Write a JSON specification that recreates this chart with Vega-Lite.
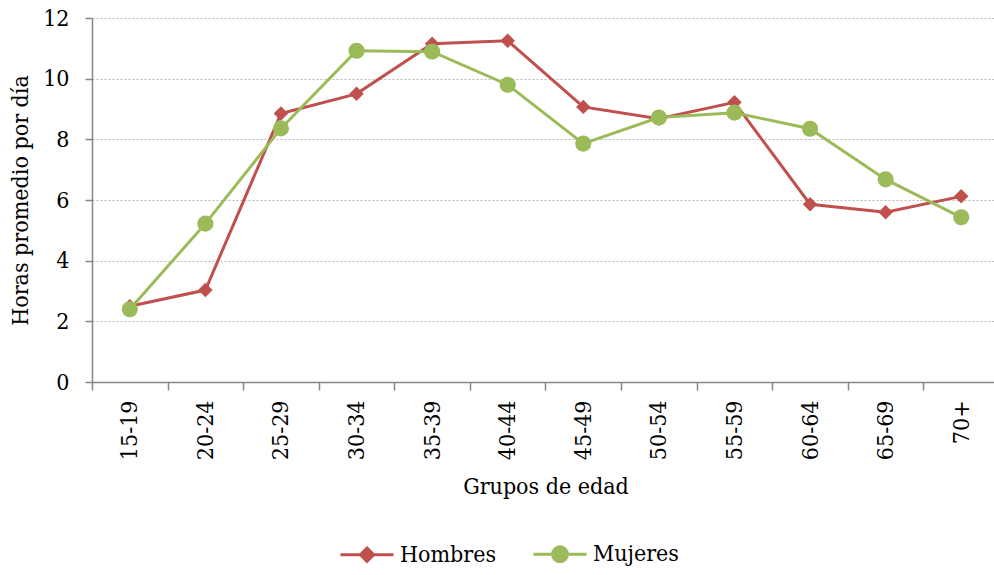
{
  "$schema": "https://vega.github.io/schema/vega-lite/v6.json",
  "autosize": "none",
  "width": 907,
  "height": 364,
  "padding": {"left": 92, "top": 18, "right": 0, "bottom": 193},
  "background": "white",
  "config": {
    "font": "DejaVu Serif Condensed, DejaVu Serif",
    "view": {"stroke": null}
  },
  "data": {
    "values": [
      {"grupo": "15-19", "sexo": "Hombres", "horas": 2.5},
      {"grupo": "20-24", "sexo": "Hombres", "horas": 3.03},
      {"grupo": "25-29", "sexo": "Hombres", "horas": 8.85},
      {"grupo": "30-34", "sexo": "Hombres", "horas": 9.5},
      {"grupo": "35-39", "sexo": "Hombres", "horas": 11.15},
      {"grupo": "40-44", "sexo": "Hombres", "horas": 11.25},
      {"grupo": "45-49", "sexo": "Hombres", "horas": 9.07},
      {"grupo": "50-54", "sexo": "Hombres", "horas": 8.68},
      {"grupo": "55-59", "sexo": "Hombres", "horas": 9.22},
      {"grupo": "60-64", "sexo": "Hombres", "horas": 5.86},
      {"grupo": "65-69", "sexo": "Hombres", "horas": 5.6},
      {"grupo": "70+", "sexo": "Hombres", "horas": 6.12},
      {"grupo": "15-19", "sexo": "Mujeres", "horas": 2.4},
      {"grupo": "20-24", "sexo": "Mujeres", "horas": 5.22},
      {"grupo": "25-29", "sexo": "Mujeres", "horas": 8.36},
      {"grupo": "30-34", "sexo": "Mujeres", "horas": 10.92},
      {"grupo": "35-39", "sexo": "Mujeres", "horas": 10.89},
      {"grupo": "40-44", "sexo": "Mujeres", "horas": 9.8},
      {"grupo": "45-49", "sexo": "Mujeres", "horas": 7.86},
      {"grupo": "50-54", "sexo": "Mujeres", "horas": 8.72},
      {"grupo": "55-59", "sexo": "Mujeres", "horas": 8.88},
      {"grupo": "60-64", "sexo": "Mujeres", "horas": 8.35},
      {"grupo": "65-69", "sexo": "Mujeres", "horas": 6.68},
      {"grupo": "70+", "sexo": "Mujeres", "horas": 5.43}
    ]
  },
  "encoding": {
    "x": {
      "field": "grupo", "type": "ordinal",
      "sort": ["15-19","20-24","25-29","30-34","35-39","40-44","45-49","50-54","55-59","60-64","65-69","70+"],
      "scale": {"type": "band", "paddingInner": 0, "paddingOuter": 0},
      "axis": {
        "title": "Grupos de edad", "titleFont": "DejaVu Serif Condensed, DejaVu Serif", "titleFontSize": 23, "titleFontWeight": "normal", "titlePadding": 16, "titleColor": "#000",
        "labelFont": "DejaVu Serif Condensed, DejaVu Serif", "labelColor": "#000",
        "labelAngle": -90, "labelFontSize": 23, "labelPadding": 10, "labelBaseline": "middle",
        "tickBand": "extent", "tickSize": 8, "tickWidth": 1.5, "tickColor": "#868686", "domainColor": "#868686", "domainWidth": 1.5, "grid": false
      }
    },
    "y": {
      "field": "horas", "type": "quantitative",
      "scale": {"domain": [0, 12], "nice": false},
      "axis": {
        "title": "Horas promedio por día", "titleFont": "DejaVu Serif Condensed, DejaVu Serif", "titleFontSize": 23, "titleFontWeight": "normal", "titlePadding": 10, "titleColor": "#000",
        "labelFont": "DejaVu Serif Condensed, DejaVu Serif", "labelColor": "#000",
        "values": [0, 2, 4, 6, 8, 10, 12], "labelFontSize": 23, "labelPadding": 16,
        "tickSize": 7, "tickWidth": 1.5, "tickColor": "#868686", "domainColor": "#868686", "domainWidth": 1.5,
        "grid": true, "gridColor": "#b8b8b8", "gridDash": [2, 2], "gridWidth": 1
      }
    },
    "color": {
      "field": "sexo", "type": "nominal",
      "scale": {"domain": ["Hombres", "Mujeres"], "range": ["#C0504D", "#9BBB59"]},
      "legend": {
        "title": null, "orient": "none", "legendX": 247, "legendY": 508, "direction": "horizontal",
        "labelFont": "DejaVu Serif Condensed, DejaVu Serif",
        "labelFontSize": 23, "labelColor": "#000", "symbolSize": 2809, "symbolStrokeWidth": 3,
        "columnPadding": 30, "labelOffset": 5,
        "symbolType": "M-1,0H1M0,-0.23L0.23,0L0,0.23L-0.23,0Z",
        "encode": {
          "symbols": {
            "update": {
              "shape": {"signal": "datum.value === 'Hombres' ? 'M-1,0H1M0,-0.25L0.25,0L0,0.25L-0.25,0Z' : 'M-1,0H1M0.28,0A0.28,0.28,0,1,1,-0.28,0A0.28,0.28,0,1,1,0.28,0Z'"},
              "fill": {"scale": "color", "field": "value"},
              "stroke": {"scale": "color", "field": "value"},
              "strokeWidth": {"value": 3},
              "opacity": {"value": 1}
            }
          }
        }
      }
    }
  },
  "layer": [
    {
      "mark": {"type": "line", "strokeWidth": 3}
    },
    {
      "transform": [{"filter": "datum.sexo === 'Hombres'"}],
      "mark": {"type": "point", "filled": true, "opacity": 1, "shape": "diamond", "size": 210}
    },
    {
      "transform": [{"filter": "datum.sexo === 'Mujeres'"}],
      "mark": {"type": "point", "filled": true, "opacity": 1, "shape": "circle", "size": 260}
    }
  ]
}
